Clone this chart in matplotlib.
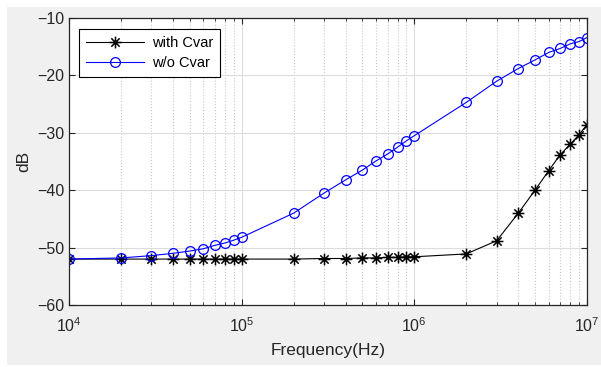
import matplotlib
matplotlib.use("Agg")
import matplotlib.pyplot as plt
from matplotlib.patches import Rectangle
from matplotlib.path import Path
import matplotlib.ticker as mticker

plt.rcParams['font.family'] = ['Liberation Sans', 'DejaVu Sans']

freq = [1e4, 2e4, 3e4, 4e4, 5e4, 6e4, 7e4, 8e4, 9e4,
        1e5, 2e5, 3e5, 4e5, 5e5, 6e5, 7e5, 8e5, 9e5,
        1e6, 2e6, 3e6, 4e6, 5e6, 6e6, 7e6, 8e6, 9e6, 1e7]
with_cvar = [-52.0, -52.0, -52.0, -52.0, -52.0, -52.0, -52.0, -52.0, -52.0,
             -52.0, -52.0, -51.9, -51.9, -51.8, -51.8, -51.7, -51.7, -51.6,
             -51.6, -51.1, -48.8, -44.0, -40.0, -36.6, -33.8, -32.0, -30.3, -28.6]
wo_cvar = [-52.0, -51.8, -51.4, -51.0, -50.6, -50.2, -49.6, -49.2, -48.7,
           -48.2, -44.0, -40.5, -38.2, -36.5, -34.9, -33.7, -32.5, -31.4,
           -30.5, -24.7, -21.0, -18.8, -17.3, -16.0, -15.3, -14.5, -14.1, -13.4]
labels = ['with Cvar', 'w/o Cvar']
yticks = [-60, -50, -40, -30, -20, -10]

# MATLAB-style asterisk marker (stroked lines only)
d = 0.7071
ast_verts = [(0, -1), (0, 1), (-1, 0), (1, 0), (-d, -d), (d, d), (-d, d), (d, -d)]
ast_codes = [Path.MOVETO, Path.LINETO] * 4
asterisk = Path(ast_verts, ast_codes)

W, H = 601, 367
fig = plt.figure(figsize=(W / 100, H / 100), dpi=100)
fig.patch.set_facecolor('white')
fig.add_artist(Rectangle((7 / W, 2 / H), 1 - 7 / W, 1 - 9 / H,
                         transform=fig.transFigure, facecolor='#f0f0f0',
                         edgecolor='none', zorder=-10))

ax = fig.add_axes([69 / W, 1 - 305 / H, (587 - 69) / W, (305 - 18) / H])
ax.set_facecolor('white')

ax.plot(freq, with_cvar, color='black', marker=asterisk, markersize=8.5,
        markeredgewidth=1.1, markerfacecolor='none', linewidth=0.8,
        label=labels[0])
ax.plot(freq, wo_cvar, color='#0000ff', marker='o', markersize=7,
        markerfacecolor='none', markeredgewidth=0.9, linewidth=0.8,
        label=labels[1])

ax.set_xscale('log')
ax.set_xlim(1e4, 1e7)
ax.set_ylim(-60, -10)
ax.set_yticks(yticks)
ax.xaxis.set_major_locator(mticker.LogLocator(base=10, numticks=10))
ax.xaxis.set_minor_locator(mticker.LogLocator(base=10, subs=range(2, 10), numticks=20))
ax.xaxis.set_minor_formatter(mticker.NullFormatter())

ax.grid(True, which='major', color='#dcdcdc', linestyle='-', linewidth=0.8)
ax.grid(True, which='minor', axis='x', color='#c8c8c8', linestyle=':', linewidth=0.8)
ax.set_axisbelow(True)

ax.tick_params(which='both', direction='in', top=True, right=True,
               labelsize=11.5, colors='#262626', length=4)
ax.tick_params(which='minor', length=2.5)
ax.tick_params(axis='x', pad=8)
for s in ax.spines.values():
    s.set_color('#262626')
    s.set_linewidth(0.9)

ax.set_xlabel('Frequency(Hz)', fontsize=12.5, color='#262626', labelpad=6)
ax.set_ylabel('dB', fontsize=12.5, color='#262626')

leg = ax.legend(loc='upper left', bbox_to_anchor=(0.019, 0.962), borderaxespad=0,
                fontsize=10.5, fancybox=False, framealpha=1, edgecolor='black',
                handlelength=4.0, handletextpad=0.5, borderpad=0.5,
                labelspacing=0.4)
leg.get_frame().set_linewidth(0.8)

fig.savefig('out.png', dpi=100, facecolor=fig.get_facecolor())
